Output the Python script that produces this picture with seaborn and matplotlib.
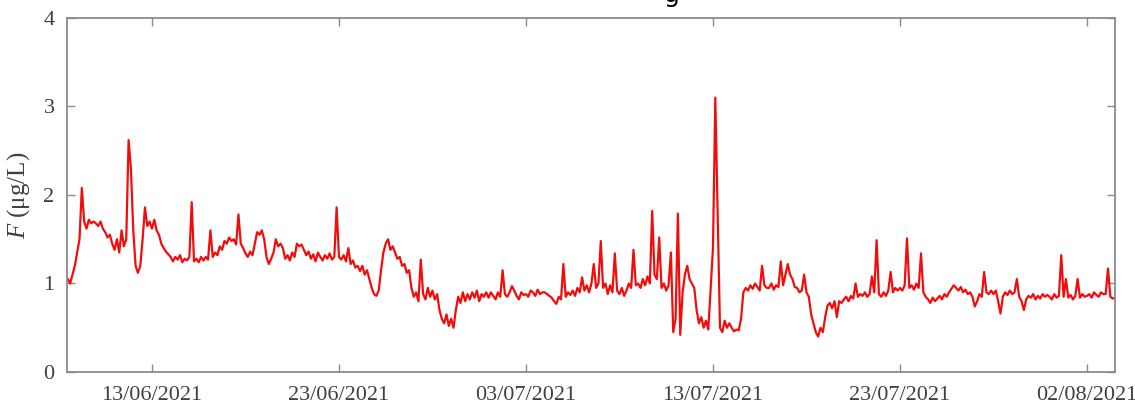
import matplotlib
matplotlib.use("Agg")
import matplotlib.pyplot as plt
import matplotlib.dates as mdates
import numpy as np
import pandas as pd
import seaborn as sns

# Chlorophyll fluorescence F (ug/L), 3-hourly readings from 08/06/2021 12:00
start_time = "2021-06-08 12:00"
step = "3h"

f_values = [
    # 08/06 (from 12:00)
    1.05, 1.00, 1.10, 1.20,
    # 09/06
    1.35, 1.50, 2.08, 1.70, 1.62, 1.72, 1.68, 1.70,
    # 10/06
    1.68, 1.65, 1.70, 1.62, 1.58, 1.52, 1.55, 1.45,
    # 11/06
    1.38, 1.50, 1.35, 1.60, 1.42, 1.50, 2.62, 2.30,
    # 12/06
    1.60, 1.20, 1.12, 1.20, 1.50, 1.86, 1.65, 1.70,
    # 13/06
    1.62, 1.72, 1.60, 1.55, 1.45, 1.40, 1.36, 1.33,
    # 14/06
    1.30, 1.25, 1.30, 1.27, 1.32, 1.24, 1.28, 1.26,
    # 15/06
    1.30, 1.92, 1.25, 1.28, 1.24, 1.30, 1.26, 1.30,
    # 16/06
    1.27, 1.60, 1.30, 1.35, 1.32, 1.42, 1.38, 1.48,
    # 17/06
    1.45, 1.52, 1.48, 1.50, 1.44, 1.78, 1.45, 1.40,
    # 18/06
    1.34, 1.30, 1.36, 1.32, 1.45, 1.58, 1.55, 1.60,
    # 19/06
    1.50, 1.30, 1.22, 1.28, 1.35, 1.50, 1.42, 1.45,
    # 20/06
    1.40, 1.28, 1.32, 1.26, 1.35, 1.30, 1.45, 1.42,
    # 21/06
    1.44, 1.38, 1.32, 1.36, 1.28, 1.33, 1.25, 1.35,
    # 22/06
    1.30, 1.26, 1.32, 1.28, 1.34, 1.27, 1.30, 1.86,
    # 23/06
    1.30, 1.27, 1.32, 1.25, 1.40, 1.22, 1.26, 1.18,
    # 24/06
    1.20, 1.14, 1.20, 1.10, 1.15, 1.05, 0.95, 0.88,
    # 25/06
    0.86, 0.92, 1.15, 1.35, 1.45, 1.50, 1.38, 1.42,
    # 26/06
    1.35, 1.28, 1.30, 1.20, 1.22, 1.12, 1.15, 0.95,
    # 27/06
    0.85, 0.90, 0.80, 1.27, 0.88, 0.82, 0.95, 0.85,
    # 28/06
    0.92, 0.82, 0.88, 0.70, 0.60, 0.55, 0.65, 0.52,
    # 29/06
    0.60, 0.50, 0.70, 0.85, 0.78, 0.90, 0.80, 0.88,
    # 30/06
    0.82, 0.90, 0.84, 0.92, 0.80, 0.88, 0.85, 0.90,
    # 01/07
    0.84, 0.90, 0.86, 0.82, 0.90, 0.85, 1.15, 0.88,
    # 02/07
    0.85, 0.90, 0.97, 0.92, 0.86, 0.82, 0.90, 0.87,
    # 03/07
    0.88, 0.85, 0.92, 0.90, 0.86, 0.93, 0.88, 0.90,
    # 04/07
    0.90, 0.88, 0.86, 0.84, 0.80, 0.77, 0.85, 0.82,
    # 05/07
    1.22, 0.85, 0.90, 0.87, 0.92, 0.86, 0.95, 0.90,
    # 06/07
    1.07, 0.92, 0.98, 0.90, 1.00, 1.22, 0.95, 1.00,
    # 07/07
    1.48, 0.95, 1.00, 0.88, 0.98, 0.90, 1.34, 0.92,
    # 08/07
    0.88, 0.95, 0.86, 0.92, 1.00, 0.95, 1.38, 0.98,
    # 09/07
    1.00, 0.95, 1.05, 0.98, 1.08, 1.00, 1.82, 1.10,
    # 10/07
    1.05, 1.52, 0.95, 1.00, 0.92, 0.98, 1.35, 0.45,
    # 11/07
    0.60, 1.79, 0.42, 0.90, 1.10, 1.20, 1.05, 1.00,
    # 12/07
    0.95, 0.70, 0.55, 0.62, 0.50, 0.58, 0.48, 0.95,
    # 13/07
    1.40, 3.10, 1.80, 0.50, 0.45, 0.58, 0.50, 0.55,
    # 14/07
    0.50, 0.46, 0.48, 0.47, 0.60, 0.90, 0.95, 0.92,
    # 15/07
    0.98, 0.94, 1.00, 0.96, 0.92, 1.20, 0.98, 0.95,
    # 16/07
    0.95, 1.00, 0.93, 0.98, 0.96, 1.25, 0.98, 1.10,
    # 17/07
    1.22, 1.10, 1.05, 0.96, 0.95, 0.90, 0.92, 1.10,
    # 18/07
    0.90, 0.85, 0.65, 0.55, 0.45, 0.40, 0.50, 0.45,
    # 19/07
    0.62, 0.75, 0.78, 0.72, 0.80, 0.62, 0.80, 0.78,
    # 20/07
    0.82, 0.85, 0.80, 0.86, 0.83, 1.00, 0.85, 0.88,
    # 21/07
    0.86, 0.90, 0.85, 0.88, 1.08, 0.90, 1.49, 0.88,
    # 22/07
    0.85, 0.90, 0.86, 0.92, 1.13, 0.90, 0.95, 0.92,
    # 23/07
    0.95, 0.92, 0.98, 1.51, 0.95, 0.98, 0.93, 1.00,
    # 24/07
    0.95, 1.34, 0.90, 0.85, 0.82, 0.78, 0.84, 0.80,
    # 25/07
    0.83, 0.86, 0.82, 0.88, 0.85, 0.90, 0.94, 0.98,
    # 26/07
    0.95, 0.92, 0.96, 0.90, 0.93, 0.88, 0.90, 0.85,
    # 27/07
    0.74, 0.80, 0.88, 0.85, 1.13, 0.90, 0.88, 0.92,
    # 28/07
    0.88, 0.92, 0.80, 0.66, 0.85, 0.90, 0.87, 0.92,
    # 29/07
    0.88, 0.90, 1.05, 0.85, 0.80, 0.70, 0.82, 0.86,
    # 30/07
    0.84, 0.88, 0.82, 0.86, 0.83, 0.88, 0.85, 0.87,
    # 31/07
    0.85, 0.82, 0.88, 0.84, 0.86, 1.32, 0.85, 1.05,
    # 01/08
    0.84, 0.87, 0.82, 0.86, 1.05, 0.84, 0.88, 0.85,
    # 02/08
    0.86, 0.88, 0.84, 0.90, 0.87, 0.85, 0.90, 0.88,
    # 03/08 (to 12:00)
    0.88, 1.17, 0.85, 0.83, 0.84,
]

tick_dates = ["2021-06-13", "2021-06-23", "2021-07-03", "2021-07-13",
              "2021-07-23", "2021-08-02"]
y_ticks = [0, 1, 2, 3, 4]
x_range = ["2021-06-08 10:55", "2021-08-03 12:00"]
y_range = [0, 4]

times = pd.date_range(start_time, periods=len(f_values), freq=step)
df = pd.DataFrame({"time": times, "F": f_values})

sns.set_theme(style="ticks")
plt.rcParams["font.family"] = ["Liberation Serif", "DejaVu Serif"]
plt.rcParams["mathtext.fontset"] = "custom"
plt.rcParams["mathtext.it"] = "Liberation Serif:italic"
plt.rcParams["mathtext.rm"] = "Liberation Serif"

fig = plt.figure(figsize=(11.35, 4.07), dpi=100)
ax = fig.add_axes([0.059, 0.086, 0.9234, 0.8698])

sns.lineplot(data=df, x="time", y="F", color="#f20d0d", linewidth=1.6, ax=ax)

ax.set_xlim(pd.Timestamp(x_range[0]), pd.Timestamp(x_range[1]))
ax.set_ylim(*y_range)
ax.set_xticks([pd.Timestamp(d) for d in tick_dates])
ax.xaxis.set_major_formatter(mdates.DateFormatter("%d/%m/%Y"))
ax.set_yticks(y_ticks)

spine_color = "#8a8a8a"
for side in ["left", "right", "top", "bottom"]:
    ax.spines[side].set_visible(True)
    ax.spines[side].set_color(spine_color)
    ax.spines[side].set_linewidth(1.3)

ax.tick_params(axis="both", direction="in", length=6, width=1.0,
               color=spine_color, labelsize=16, labelcolor="#404040",
               top=True, right=True)
ax.tick_params(axis="x", pad=10)
ax.tick_params(axis="y", pad=9)

ax.set_xlabel("")
ax.set_ylabel(r"$F$ (μg/L)", fontsize=18, color="#404040", labelpad=8)

# fragment of the heading above the plot
fig.text(0.592, 0.996, "g", fontsize=18, color="black",
         family="DejaVu Sans", ha="center", va="baseline")

fig.savefig("out.png", dpi=100)
